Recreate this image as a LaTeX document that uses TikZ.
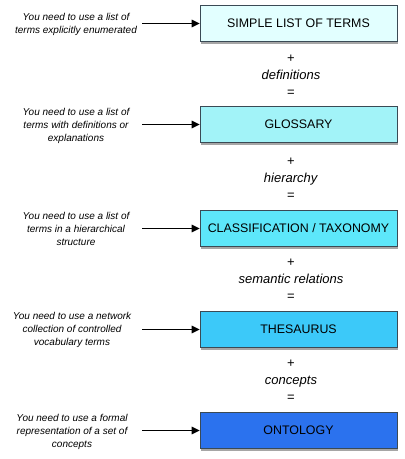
\documentclass[tikz,border=0pt]{standalone}
\usepackage{fontspec}
\setmainfont{Liberation Sans}
\usetikzlibrary{shadows,arrows.meta}
\definecolor{c1}{HTML}{E2FFFF}
\definecolor{c2}{HTML}{A2F3F8}
\definecolor{c3}{HTML}{5DE7FA}
\definecolor{c4}{HTML}{3CC9F9}
\definecolor{c5}{HTML}{2B72EE}
\definecolor{bordc}{HTML}{3A4A55}
\tikzset{
  termbox/.style={draw=bordc, line width=0.6pt, minimum width=197pt, minimum height=36pt,
    inner sep=0pt, font=\fontsize{12.4}{14}\selectfont,
    drop shadow={shadow xshift=1.2pt, shadow yshift=-2pt, opacity=0.35, fill=black}},
  need/.style={align=center, font=\fontsize{10}{13.3}\selectfont\itshape},
  mid/.style={align=center, font=\fontsize{13}{17}\selectfont},
  pointer/.style={-{Triangle[length=8pt,width=7.5pt]}, line width=1.6pt, black}
}
\begin{document}
\begin{tikzpicture}[x=1pt,y=-1pt]
\useasboundingbox (0,0) rectangle (405,459);
\node[termbox, fill=c1] (b1) at (298.5,23.5) {SIMPLE LIST OF TERMS};
\node[termbox, fill=c2] (b2) at (298.5,124.5) {GLOSSARY};
\node[termbox, fill=c3] (b3) at (298.5,228.5) {CLASSIFICATION / TAXONOMY};
\node[termbox, fill=c4] (b4) at (298.5,329.5) {THESAURUS};
\node[termbox, fill=c5] (b5) at (298.5,430.5) {ONTOLOGY};

\node[need] (t1) at (76,24.5) {You need to use a list of\\terms explicitly enumerated};
\node[need] (t2) at (76,126) {You need to use a list of\\terms with definitions or\\explanations};
\node[need] (t3) at (76,229) {You need to use a list of\\terms in a hierarchical\\structure};
\node[need] (t4) at (72,330) {You need to use a network\\collection of controlled\\vocabulary terms};
\node[need] (t5) at (72,432) {You need to use a formal\\representation of a set of\\concepts};

\coordinate (s1) at (142,23.5);
\coordinate (s2) at (142,124.5);
\coordinate (s3) at (142,228.5);
\coordinate (s4) at (142,329.5);
\coordinate (s5) at (142,430.5);
\draw[pointer] (s1) -- (b1.west);
\draw[pointer] (s2) -- (b2.west);
\draw[pointer] (s3) -- (b3.west);
\draw[pointer] (s4) -- (b4.west);
\draw[pointer] (s5) -- (b5.west);

\node[mid] (m1) at (291,76) {+\\\textit{definitions}\\=};
\node[mid] (m2) at (291,179) {+\\\textit{hierarchy}\\=};
\node[mid] (m3) at (291,280) {+\\\textit{semantic relations}\\=};
\node[mid] (m4) at (291,381) {+\\\textit{concepts}\\=};
\end{tikzpicture}
\end{document}
